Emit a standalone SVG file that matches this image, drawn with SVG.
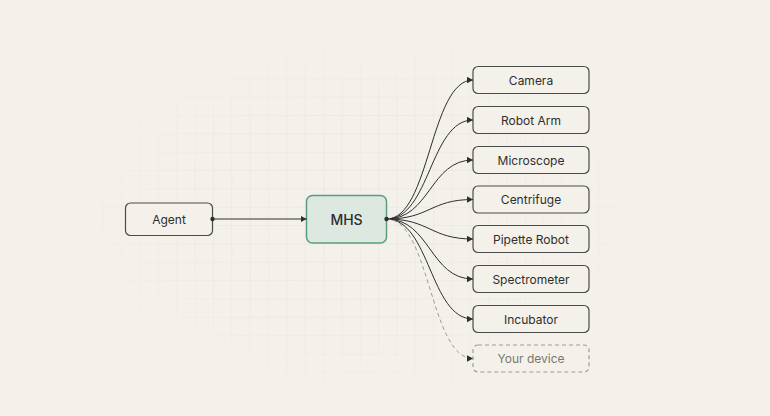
<svg xmlns="http://www.w3.org/2000/svg" width="770" height="416" viewBox="0 0 770 416">
<defs>
<style>
.node rect{fill:#f4f1eb;stroke:#4a4a4a;stroke-width:1.2}
.lbl{font-family:Inter,"Liberation Sans",sans-serif;font-size:12px;fill:#2e2e2e;text-anchor:middle;dominant-baseline:central}
.edge{fill:none;stroke:#2e2e2e;stroke-width:1}
.dash{fill:none;stroke:#a09c96;stroke-width:1;stroke-dasharray:4 3}
</style>
<pattern id="grid" width="18.35" height="18.35" patternUnits="userSpaceOnUse" x="11.15" y="4.9">
<path d="M0 0H18.35M0 0V18.35" fill="none" stroke="#e6e1d8" stroke-width="1"/>
</pattern>
<radialGradient id="fade" cx="0.5" cy="0.5" r="0.5">
<stop offset="0" stop-color="#fff" stop-opacity="1"/>
<stop offset="0.6" stop-color="#fff" stop-opacity="0.7"/>
<stop offset="1" stop-color="#fff" stop-opacity="0"/>
</radialGradient>
<mask id="m"><rect x="60" y="20" width="600" height="390" fill="url(#fade)"/></mask>
<marker id="arr" markerWidth="7" markerHeight="7" refX="6" refY="3.5" orient="auto" markerUnits="userSpaceOnUse">
<path d="M0 0.3L6 3.5L0 6.7Z" fill="#2e2e2e"/>
</marker>
</defs>
<rect width="770" height="416" fill="#f4f1eb"/>
<rect x="60" y="20" width="600" height="390" fill="url(#grid)" mask="url(#m)"/>
<g id="agent" class="node"><rect x="125.5" y="203" width="87" height="32.5" rx="5"/><text class="lbl" x="169" y="219">Agent</text></g>
<g id="mhs"><rect x="306.5" y="195.5" width="80" height="47.5" rx="6" fill="#dce8e0" stroke="#5e9c80" stroke-width="1.5"/><text class="lbl" x="346.5" y="219" style="font-size:14px;font-weight:500">MHS</text></g>
<g id="camera" class="node"><rect x="473" y="66.5" width="116" height="27" rx="5"/><text class="lbl" x="531" y="80">Camera</text></g>
<g id="robot-arm" class="node"><rect x="473" y="106.5" width="116" height="27" rx="5"/><text class="lbl" x="531" y="120">Robot Arm</text></g>
<g id="microscope" class="node"><rect x="473" y="146.5" width="116" height="27" rx="5"/><text class="lbl" x="531" y="160">Microscope</text></g>
<g id="centrifuge" class="node"><rect x="473" y="186" width="116" height="27" rx="5"/><text class="lbl" x="531" y="199.5">Centrifuge</text></g>
<g id="pipette-robot" class="node"><rect x="473" y="225.5" width="116" height="27" rx="5"/><text class="lbl" x="531" y="239">Pipette Robot</text></g>
<g id="spectrometer" class="node"><rect x="473" y="265.5" width="116" height="27" rx="5"/><text class="lbl" x="531" y="279">Spectrometer</text></g>
<g id="incubator" class="node"><rect x="473" y="305.5" width="116" height="27" rx="5"/><text class="lbl" x="531" y="319">Incubator</text></g>
<g id="your-device"><rect x="473" y="345" width="116" height="27" rx="5" fill="#f4f1eb" stroke="#a09c96" stroke-width="1.2" stroke-dasharray="4 3"/><text class="lbl" x="531" y="358.5" style="fill:#7a7772">Your device</text></g>
<g id="connectors">
<path class="edge" d="M212.5 219H306.5" marker-end="url(#arr)"/>
<path class="edge" d="M386.5 219C430 219 430 80 473 80" marker-end="url(#arr)"/>
<path class="edge" d="M386.5 219C430 219 430 120 473 120" marker-end="url(#arr)"/>
<path class="edge" d="M386.5 219C430 219 430 160 473 160" marker-end="url(#arr)"/>
<path class="edge" d="M386.5 219C430 219 430 199.5 473 199.5" marker-end="url(#arr)"/>
<path class="edge" d="M386.5 219C430 219 430 239 473 239" marker-end="url(#arr)"/>
<path class="edge" d="M386.5 219C430 219 430 279 473 279" marker-end="url(#arr)"/>
<path class="edge" d="M386.5 219C430 219 430 319 473 319" marker-end="url(#arr)"/>
<path class="dash" d="M386.5 219C430 219 430 358.5 473 358.5" marker-end="url(#arr)"/>
<circle cx="212.5" cy="219" r="2.2" fill="#2e2e2e"/>
<circle cx="386.5" cy="219" r="2.2" fill="#2e2e2e"/>
</g>
</svg>
